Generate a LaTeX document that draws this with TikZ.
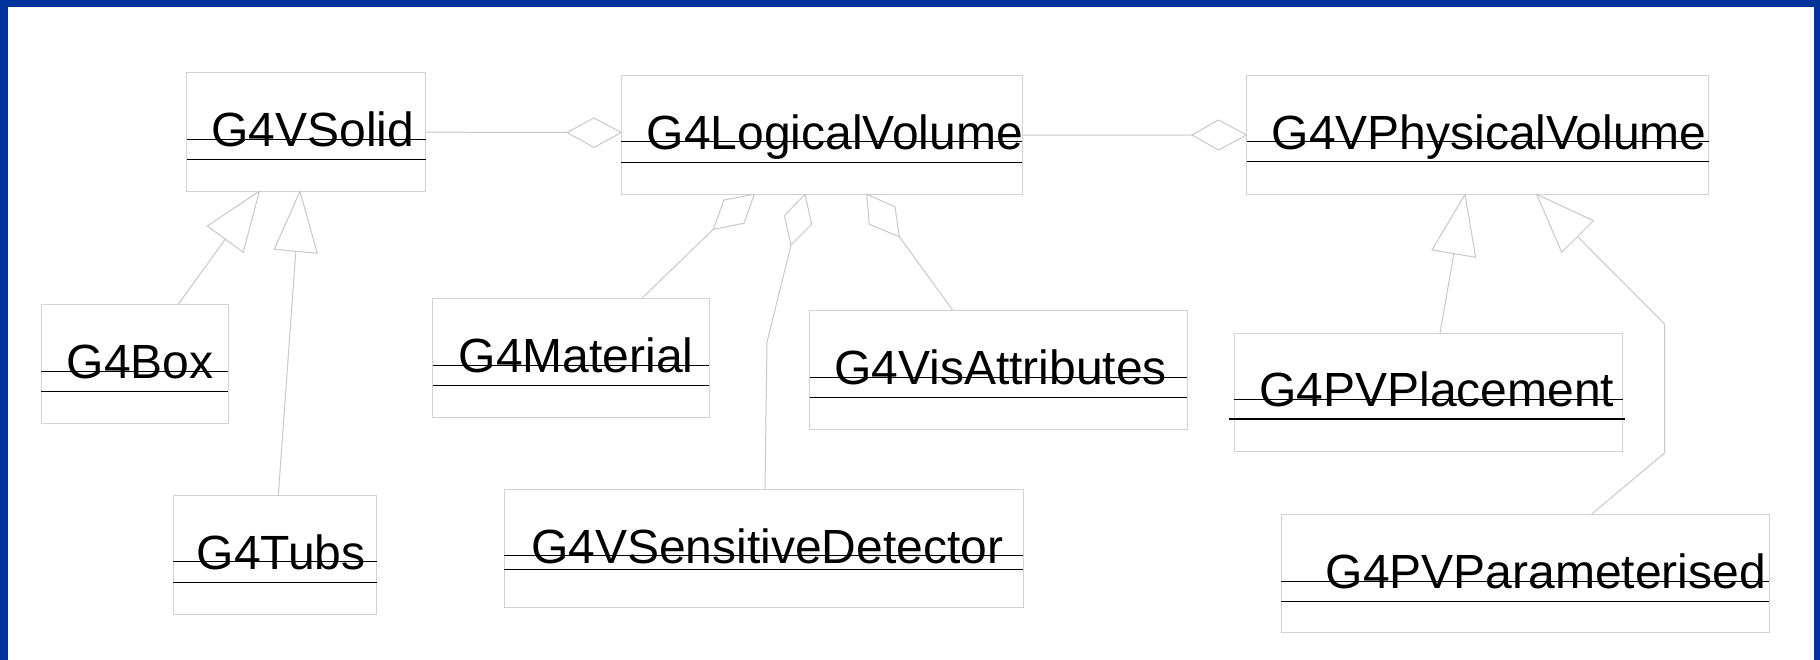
\documentclass[tikz,border=0pt]{standalone}
\usepackage{fontspec}
\setmainfont{Liberation Sans}
\usetikzlibrary{calc}
\definecolor{frameblue}{RGB}{0,51,153}
\definecolor{boxgray}{RGB}{210,210,210}
\definecolor{linegray}{RGB}{200,200,200}
\newcommand{\umlclass}[9]{%
  \node[cls, minimum width={#4pt-#2pt}, minimum height={#5pt-#3pt}] (#1) at (#2,#3) {};
  \draw[sepa] (#2,#6) -- (#4,#6);
  \draw[sepb] (#2,#7) -- (#4,#7);
  \node[lbl] (#1t) at (#8,{#6+7.5}) {#9};
}
\begin{document}
\begin{tikzpicture}[x=1pt,y=-1pt,
  cls/.style={draw=boxgray, line width=1pt, fill=white, rectangle, inner sep=0pt, outer sep=0pt, anchor=north west},
  lbl/.style={inner sep=0pt, outer sep=0pt, anchor=base west, font=\fontsize{48}{57}\selectfont, text=black},
  sepa/.style={draw=black, line width=1pt},
  sepb/.style={draw=black, line width=1pt},
  conn/.style={draw=linegray, line width=1pt},
  head/.style={draw=linegray, line width=1pt, fill=white, line join=miter}]
\useasboundingbox (0,0) rectangle (1820,660);
\fill[white] (0,0) rectangle (1820,660);
\fill[frameblue] (0,0) rectangle (1820,7.3);
\fill[frameblue] (0,0) rectangle (7.5,660);
\fill[frameblue] (1814.3,0) rectangle (1820,660);

% classes
\umlclass{solid}{186.5}{73}{425.5}{191.3}{139.3}{159.7}{211.5}{G4VSolid}
\umlclass{logical}{621.3}{76}{1022.3}{194.3}{141.7}{162.3}{646.7}{G4LogicalVolume}
\umlclass{physical}{1246.6}{76}{1708.5}{194.3}{141.7}{162}{1271.8}{G4VPhysicalVolume}
\umlclass{box}{41.3}{304.3}{228.3}{423.3}{371}{391}{66.7}{G4Box}
\umlclass{tubs}{173.3}{495.3}{376.7}{614}{561.7}{582}{196.7}{G4Tubs}
\umlclass{material}{432.7}{298.3}{709.4}{417}{365.3}{385.3}{458.8}{G4Material}
\umlclass{visattr}{809.8}{310.3}{1187.4}{429}{377}{397}{834.3}{G4VisAttributes}
\umlclass{sensdet}{504}{489.3}{1023.3}{607.3}{555.7}{569}{531}{G4VSensitiveDetector}
\begin{scope}[sepb/.style={draw=black, line width=2.2pt, shorten <=-5.5pt, shorten >=-2.5pt}]
\umlclass{placement}{1234.4}{333.3}{1622.7}{451}{399}{418.7}{1259.3}{G4PVPlacement}
\end{scope}
\umlclass{param}{1281}{514.3}{1769.4}{632.7}{581}{601}{1325.7}{G4PVParameterised}

% A: G4VSolid -- G4LogicalVolume (aggregation)
\coordinate (A1) at (567,132.5); \coordinate (A2) at (594,118);
\coordinate (A3) at (621.3,132.5); \coordinate (A4) at (594,147.5);
\draw[conn] (solid.east) -- (A1);
\draw[head] (A1) -- (A2) -- (A3) -- (A4) -- cycle;

% B: G4LogicalVolume -- G4VPhysicalVolume (aggregation)
\coordinate (B1) at (1192,135); \coordinate (B2) at (1218.5,120);
\coordinate (B3) at (1246.6,135); \coordinate (B4) at (1218.5,150);
\draw[conn] (logical.east) -- (B1);
\draw[head] (B1) -- (B2) -- (B3) -- (B4) -- cycle;

% C: G4Box -> G4VSolid (generalisation)
\coordinate (C1) at (259.3,191.3); \coordinate (C2) at (207.3,226); \coordinate (C3) at (243.3,252.3);
\draw[conn] ($(C2)!0.5!(C3)$) -- ($(box.north west)+(137,0)$);
\draw[head] (C1) -- (C2) -- (C3) -- cycle;

% D: G4Tubs -> G4VSolid (generalisation)
\coordinate (D1) at (300,191.3); \coordinate (D2) at (274.3,249.3); \coordinate (D3) at (317.3,253.3);
\draw[conn] ($(D2)!0.5!(D3)$) -- ($(tubs.north west)+(105,0)$);
\draw[head] (D1) -- (D2) -- (D3) -- cycle;

% E: G4Material -- G4LogicalVolume (aggregation)
\coordinate (E1) at (754.3,194.3); \coordinate (E2) at (724,200);
\coordinate (E3) at (713.3,229.3); \coordinate (E4) at (744,223.3);
\draw[conn] (E3) -- ($(material.north west)+(209.2,0)$);
\draw[head] (E1) -- (E2) -- (E3) -- (E4) -- cycle;

% F: G4VSensitiveDetector -- G4LogicalVolume (aggregation)
\coordinate (F1) at (805,194.3); \coordinate (F2) at (784.3,215.7);
\coordinate (F3) at (791,245); \coordinate (F4) at (811.7,224.3);
\coordinate (Fb) at (767,342);
\draw[conn] (F3) -- (Fb) -- ($(sensdet.north west)+(261,0)$);
\draw[head] (F1) -- (F2) -- (F3) -- (F4) -- cycle;

% G: G4VisAttributes -- G4LogicalVolume (aggregation)
\coordinate (G1) at (866.7,194.3); \coordinate (G2) at (895,206.7);
\coordinate (G3) at (899.3,236.7); \coordinate (G4) at (869.3,224.3);
\draw[conn] (G3) -- ($(visattr.north west)+(143,0)$);
\draw[head] (G1) -- (G2) -- (G3) -- (G4) -- cycle;

% H: G4PVPlacement -> G4VPhysicalVolume (generalisation)
\coordinate (H1) at (1465,194.3); \coordinate (H2) at (1432,250); \coordinate (H3) at (1475.6,257.3);
\draw[conn] ($(H2)!0.5!(H3)$) -- ($(placement.north west)+(205.6,0)$);
\draw[head] (H1) -- (H2) -- (H3) -- cycle;

% I: G4PVParameterised -> G4VPhysicalVolume (generalisation)
\coordinate (I1) at (1536.7,194.3); \coordinate (I2) at (1593.3,220.7); \coordinate (I3) at (1561.7,252.3);
\coordinate (Ib1) at (1664.5,324); \coordinate (Ib2) at (1664.5,453);
\draw[conn] ($(I2)!0.5!(I3)$) -- (Ib1) -- (Ib2) -- ($(param.north west)+(310.5,0)$);
\draw[head] (I1) -- (I2) -- (I3) -- cycle;
\end{tikzpicture}
\end{document}
